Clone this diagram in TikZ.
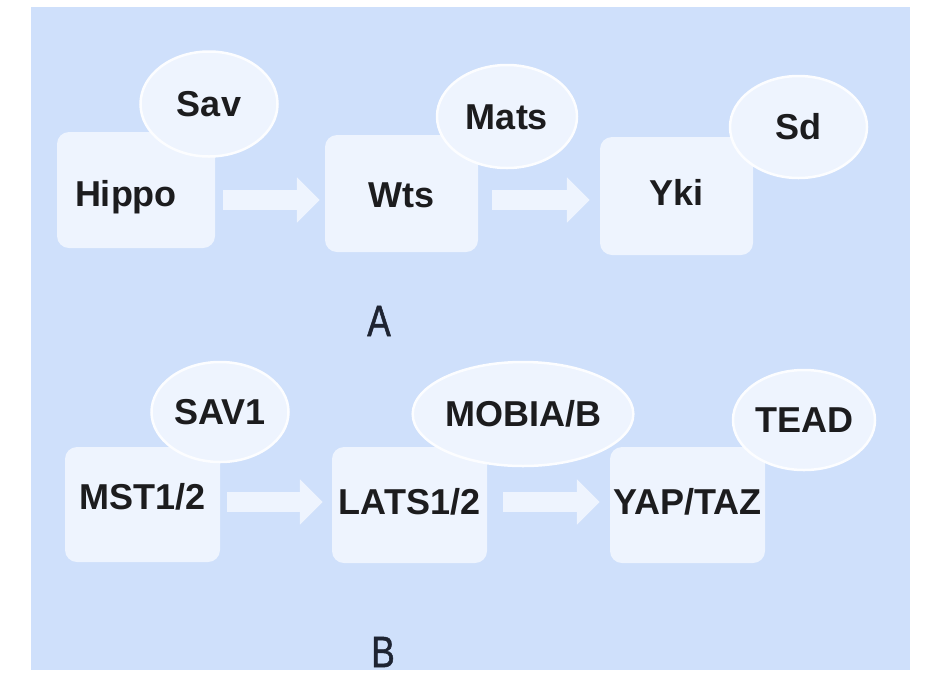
\documentclass[tikz,border=0pt]{standalone}
\usepackage{fontspec}
\setmainfont{Liberation Sans}
\newfontfamily\labelfont[FakeStretch=0.8,FakeBold=1.2]{Liberation Sans}
\usetikzlibrary{arrows.meta,shapes.geometric,calc}
\definecolor{bgblue}{RGB}{207,224,251}
\definecolor{boxfill}{RGB}{238,244,254}
\definecolor{ellborder}{RGB}{252,253,255}
\definecolor{txt}{RGB}{28,28,30}
\definecolor{lbl}{RGB}{30,36,50}
\tikzset{
  box/.style={draw=none, fill=boxfill, rounded corners=12pt, inner sep=0pt,
    font=\bfseries\fontsize{36}{36}\selectfont, text=txt, text height=25pt, text depth=0pt},
  blob/.style={ellipse, fill=boxfill, draw=ellborder, line width=2.5pt, inner sep=0pt,
    font=\bfseries\fontsize{36}{36}\selectfont, text=txt, text height=25pt, text depth=0pt},
  blockarrow/.style={draw=boxfill, line width=20pt,
    -{Triangle[length=23pt 0 0, width=44pt 0 0]}},
  lab/.style={font=\labelfont\fontsize{44}{44}\selectfont, text=lbl, inner sep=0pt}
}
\begin{document}
\begin{tikzpicture}[x=1pt,y=-1pt]
\useasboundingbox (0,0) rectangle (941,678);
\fill[bgblue] (31,7) rectangle (910,670);

% row A boxes
\node[box, minimum width=158pt, minimum height=116pt, text width=122pt, align=left, text height=32pt] (hippo) at (136,190) {Hippo};
\node[box, minimum width=153pt, minimum height=117pt, text height=28pt] (wts) at (401.5,193.5) {Wts};
\node[box, minimum width=153pt, minimum height=118pt, text depth=6pt] (yki) at (676.5,196) {Yki};

% row B boxes
\node[box, minimum width=155pt, minimum height=115pt, text depth=15pt] (mst) at (142.5,504.5) {MST1/2};
\node[box, minimum width=155pt, minimum height=116pt, text depth=6pt] (lats) at (409.5,505) {LATS1/2};
\node[box, minimum width=155pt, minimum height=116pt, text depth=6pt] (yap) at (687.5,505) {YAP/TAZ};

% ellipses
\node[blob, minimum width=137pt, minimum height=105pt] (sav) at (209,104) {Sav};
\node[blob, minimum width=140pt, minimum height=103pt] (mats) at (507,116.5) {Mats};
\node[blob, minimum width=137pt, minimum height=102pt] (sd) at (798.5,127) {Sd};
\node[blob, minimum width=137pt, minimum height=100pt] (sav1) at (220,412) {SAV1};
\node[blob, minimum width=175pt, minimum height=104pt] (mob) at (523,414) {MOBIA/B};
\node[blob, minimum width=142pt, minimum height=100pt] (tead) at (804,420) {TEAD};

% arrow levels
\coordinate (ya) at (0,200);
\coordinate (yb) at (0,502);

\draw[blockarrow] ($(hippo.east |- ya)+(8,0)$) -- ($(wts.west |- ya)+(-5,0)$);
\draw[blockarrow] ($(wts.east |- ya)+(14,0)$) -- ($(yki.west |- ya)+(-10,0)$);
\draw[blockarrow] ($(mst.east |- yb)+(7,0)$) -- ($(lats.west |- yb)+(-9,0)$);
\draw[blockarrow] ($(lats.east |- yb)+(16,0)$) -- ($(yap.west |- yb)+(-10,0)$);

% panel labels
\node[lab] (labA) at (379,321) {A};
\node[lab] (labB) at (383,652) {B};
\end{tikzpicture}
\end{document}
